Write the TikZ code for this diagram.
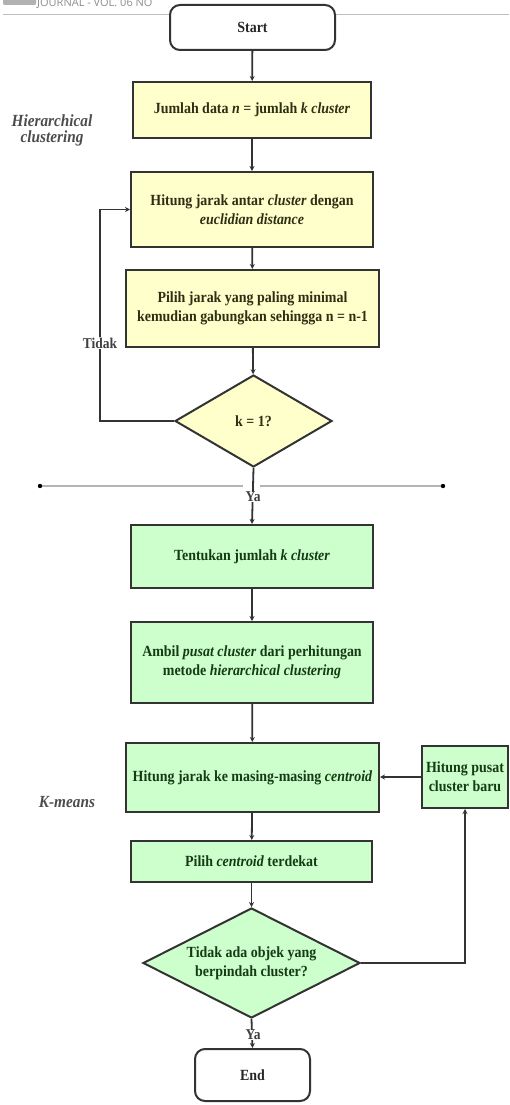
\documentclass[tikz,border=0pt]{standalone}
\usepackage{fontspec}
\setmainfont{Liberation Serif}
\newfontfamily\boxfont[FakeStretch=0.9]{Liberation Serif}
\newfontfamily\headfont{Open Sans}
\usetikzlibrary{shapes.geometric,arrows.meta}
\definecolor{yelfill}{HTML}{FFFFCC}
\definecolor{grnfill}{HTML}{CCFFCC}
\definecolor{boxline}{HTML}{333333}
\definecolor{yeltext}{HTML}{2E2E14}
\definecolor{grntext}{HTML}{163A16}
\definecolor{sepline}{HTML}{B4B4B4}
\begin{document}
\begin{tikzpicture}[x=1pt,y=-1pt,
  base/.style={draw=boxline, line width=2pt, align=center, inner sep=1pt,
    font=\boxfont\bfseries\fontsize{15.5}{19}\selectfont},
  yel/.style={base, rectangle, fill=yelfill, text=yeltext},
  grn/.style={base, rectangle, fill=grnfill, text=grntext},
  term/.style={base, rectangle, rounded corners=10pt, fill=white, text=black!85},
  dec/.style={base, diamond, aspect=1.8},
  arr/.style={draw=boxline, line width=1.8pt, -{Stealth[length=5pt,width=5pt]}},
  lbl/.style={font=\boxfont\bfseries\fontsize{15}{15}\selectfont, text=black!75},
  side/.style={font=\boxfont\bfseries\itshape\fontsize{17}{16}\selectfont, text=black!70, align=center}]
\useasboundingbox (0,0) rectangle (509,1105);
% header
\fill[black!30, rounded corners=1pt] (3,-2) rectangle (36,5);
\node[font=\headfont\fontsize{11}{11}\selectfont, text=black!45, anchor=base west, inner sep=0] (hdr) at (37,7) {JOURNAL - VOL. 06 NO};
\draw[black!25, line width=1pt] (3,15) -- (509,15);
% nodes
\node[term, minimum width=165pt, minimum height=45pt] (start) at (252.5,27.5) {Start};
\node[yel, minimum width=238pt, minimum height=56pt] (b1) at (252,110) {Jumlah data \textit{n} = jumlah \textit{k cluster}};
\node[yel, minimum width=242pt, minimum height=75pt] (b2) at (252,209.5) {Hitung jarak antar \textit{cluster} dengan\\ \textit{euclidian distance}};
\node[yel, minimum width=253pt, minimum height=77pt] (b3) at (252.5,308.5) {Pilih jarak yang paling minimal\\ kemudian gabungkan sehingga n = n-1};
\node[dec, fill=yelfill, text=yeltext, minimum width=157pt, minimum height=92pt] (d1) at (253.5,421) {k = 1?};
\node[grn, minimum width=242pt, minimum height=63pt] (b4) at (252,556.5) {Tentukan jumlah \textit{k cluster}};
\node[grn, minimum width=242pt, minimum height=81pt] (b5) at (252,662.5) {Ambil \textit{pusat cluster} dari perhitungan\\ metode \textit{hierarchical clustering}};
\node[grn, minimum width=253pt, minimum height=69pt] (b6) at (252.5,777.5) {Hitung jarak ke masing-masing \textit{centroid}};
\node[grn, minimum width=86pt, minimum height=62pt] (b7) at (465,777) {Hitung pusat\\ cluster baru};
\node[grn, minimum width=241pt, minimum height=41pt] (b8) at (251.5,861.5) {Pilih \textit{centroid} terdekat};
\node[dec, fill=grnfill, text=grntext, minimum width=217pt, minimum height=110pt, inner sep=0pt] (d2) at (251.5,963) {Tidak ada objek yang\\ berpindah cluster?};
\node[term, minimum width=115pt, minimum height=52pt] (end) at (252.5,1075) {End};
% side labels
\node[side] (hc) at (52,130) {Hierarchical\\ clustering};
\node[side] (km) at (67,802) {K-means};
% separator
\coordinate (sepL) at (40,486);
\coordinate (sepR) at (443,486);
\coordinate (gapL) at (243,486);
\coordinate (gapR) at (260,486);
\draw[sepline, line width=1.8pt] (sepL) -- (gapL) (gapR) -- (sepR);
\fill[black] (sepL) circle (2.2pt) (sepR) circle (2.2pt);
% connectors
\draw[arr] (start) -- (b1);
\draw[arr] (b1) -- (b2);
\draw[arr] (b2) -- (b3);
\draw[arr] (b3) -- (d1);
\coordinate (loopc) at (100,421);
\draw[arr] (d1.west) -- (loopc) |- (b2.west);
\node[lbl, fill=white, inner sep=0.5pt] (tidak) at (100,343) {Tidak};
\draw[arr] (d1.south) -- (b4.north);
\node[lbl, fill=white, inner sep=0.5pt] (ya1) at (253,497) {Ya};
\draw[arr] (b4) -- (b5);
\draw[arr] (b5) -- (b6);
\draw[arr] (b6) -- (b8);
\draw[arr] (b8) -- (d2);
\draw[arr] (d2.east) -| (b7.south);
\draw[arr] (b7.west) -- (b6.east |- b7.west);
\draw[arr] (d2.south) -- (end.north);
\node[lbl, fill=white, inner sep=0.5pt] (ya2) at (253,1035) {Ya};
\end{tikzpicture}
\end{document}
